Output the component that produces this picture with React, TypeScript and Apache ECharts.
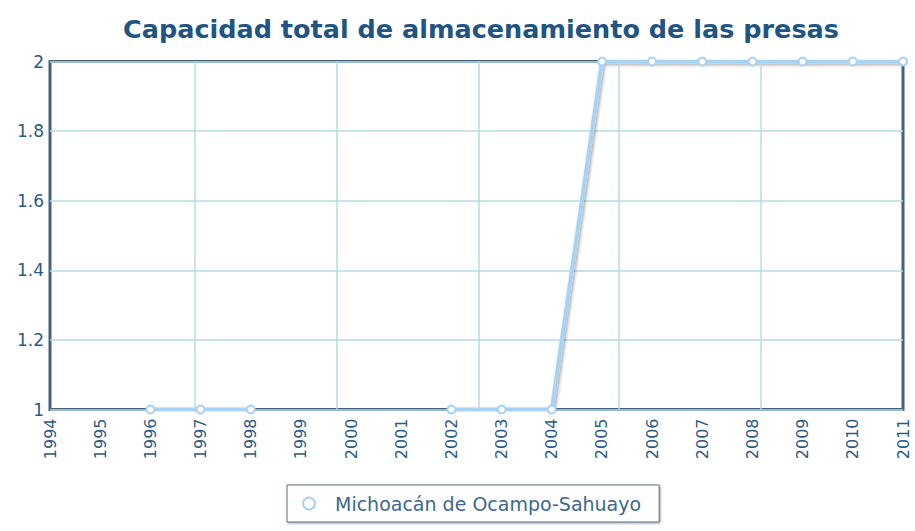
import React, { useEffect, useRef } from "react";
import * as echarts from "echarts";

const titleText = "Capacidad total de almacenamiento de las presas";
const seriesName = "Michoacán de Ocampo-Sahuayo";
const years = [1994, 1995, 1996, 1997, 1998, 1999, 2000, 2001, 2002, 2003, 2004, 2005, 2006, 2007, 2008, 2009, 2010, 2011];
const values: (number | null)[] = [null, null, 1, 1, 1, null, null, null, 1, 1, 1, 2, 2, 2, 2, 2, 2, 2];
const verticalGridYears = [1996.88, 1999.71, 2002.55, 2005.34, 2008.17];
const yMin = 1;
const yMax = 2;
const yStep = 0.2;

const FONT = "DejaVu Sans";
const DARK = "#46617a";
const LABEL = "#2c5a86";
const GRID = "#b3dde6";
const LINE = "#a8d3f5";

export default function App() {
  const ref = useRef<HTMLDivElement>(null);
  useEffect(() => {
    if (!ref.current) return;
    const chart = echarts.init(ref.current, undefined, { renderer: "svg" });
    const data = years.map((y, i) => [y, values[i]]);
    chart.setOption({
      animation: false,
      backgroundColor: "#ffffff",
      title: {
        text: titleText,
        left: 118,
        top: 11,
        textStyle: { fontFamily: FONT, fontSize: 25.5, fontWeight: "bold", color: "#1f5484" },
      },
      legend: {
        data: [{ name: seriesName, icon: "circle" }],
        left: 287,
        top: 485,
        orient: "horizontal",
        padding: [9, 18, 9, 15],
        itemWidth: 12,
        itemHeight: 12,
        borderColor: "#5b7083",
        borderWidth: 1,
        borderRadius: 0,
        shadowColor: "rgba(0,0,0,0.35)",
        shadowBlur: 2,
        shadowOffsetX: 1,
        shadowOffsetY: 1,
        backgroundColor: "#ffffff",
        itemStyle: { color: "#ffffff", borderColor: LINE, borderWidth: 2 },
        textStyle: { fontFamily: FONT, fontSize: 19, color: "#3d6790", padding: [0, 0, 0, 15] },
      },
      grid: {
        left: 50,
        right: 12,
        top: 61.5,
        bottom: 121.5,
        show: true,
        borderColor: DARK,
        borderWidth: 3,
        backgroundColor: "transparent",
      },
      xAxis: {
        type: "value",
        min: years[0],
        max: years[years.length - 1],
        interval: 1,
        axisLine: { show: false },
        axisTick: { show: false },
        splitLine: { show: false },
        axisLabel: {
          rotate: 90,
          margin: 9,
          fontFamily: FONT,
          fontSize: 16,
          color: LABEL,
          formatter: (v: number) => String(v),
        },
      },
      yAxis: {
        type: "value",
        min: yMin,
        max: yMax,
        interval: yStep,
        axisLine: { show: false },
        axisTick: { show: false },
        splitLine: { show: true, lineStyle: { color: GRID, width: 1.5 } },
        axisLabel: {
          margin: 6,
          fontFamily: FONT,
          fontSize: 17,
          color: LABEL,
          formatter: (v: number) => String(Math.round(v * 10) / 10),
        },
      },
      series: [
        {
          type: "line",
          name: "grid-helper",
          data: [],
          z: 1,
          silent: true,
          markLine: {
            silent: true,
            symbol: ["none", "none"],
            label: { show: false },
            lineStyle: { color: GRID, width: 1.5, type: "solid" },
            data: verticalGridYears.map((x) => ({ xAxis: x })),
          },
        },
        {
          type: "line",
          name: seriesName,
          data,
          z: 3,
          connectNulls: false,
          symbol: "circle",
          symbolSize: 8,
          showAllSymbol: true,
          lineStyle: {
            color: LINE,
            width: 4,
            shadowColor: "rgba(0,0,0,0.35)",
            shadowBlur: 3,
            shadowOffsetX: 1.5,
            shadowOffsetY: 1.5,
          },
          itemStyle: { color: "#ffffff", borderColor: LINE, borderWidth: 2 },
        },
      ],
    });
    return () => chart.dispose();
  }, []);
  return (
    <div
      ref={ref}
      style={{ position: "fixed", left: 0, top: 0, width: 915, height: 531 }}
    />
  );
}
